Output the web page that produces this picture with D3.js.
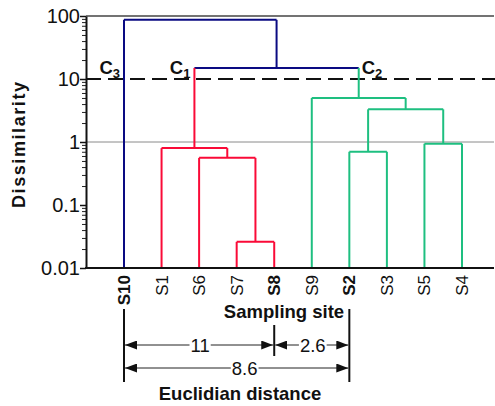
<!DOCTYPE html>
<html>
<head>
<meta charset="utf-8">
<script src="https://cdn.jsdelivr.net/npm/d3@7"></script>
<style>
  body { margin: 0; background: #fff; }
  text { font-family: "Liberation Sans", Arial, Helvetica, sans-serif; fill: #111; }
</style>
</head>
<body>
<svg id="chart" width="495" height="406"></svg>
<script>
// leaves in plotted order
const leaves = ["S10", "S1", "S6", "S7", "S8", "S9", "S2", "S3", "S5", "S4"];
const boldLeaves = ["S10", "S8", "S2"];
const leafCluster = ["blue", "red", "red", "red", "red", "green", "green", "green", "green", "green"];

// internal nodes (merges), bottom-up
const nodeIds = ["n1", "n2", "n3", "n4", "n5", "n6", "n7", "n8", "n9"];
const nodeChildren = [["S7", "S8"], ["S6", "n1"], ["S1", "n2"], ["S2", "S3"], ["S5", "S4"],
                      ["n4", "n5"], ["S9", "n6"], ["n3", "n7"], ["S10", "n8"]];
const nodeHeights = [0.026, 0.56, 0.80, 0.70, 0.94, 3.3, 5.0, 15, 87];
const nodeCluster = ["red", "red", "red", "green", "green", "green", "green", "blue", "blue"];

const yTicks = [0.01, 0.1, 1, 10, 100];
const yTickLabels = ["0.01", "0.1", "1", "10", "100"];
const cutLevel = 10;

// cluster labels: [main, subscript, node whose vertical they sit by, side]
const clusterLabels = [["C", "3", "S10", "left"], ["C", "1", "n3", "left"], ["C", "2", "n7", "right"]];

// euclidian distances between the representative sites
const distFrom = ["S10", "S8", "S10"];
const distTo = ["S8", "S2", "S2"];
const distLabels = ["11", "2.6", "8.6"];
const distRow = [0, 0, 1];

const colors = { blue: "#0a0a82", red: "#fa0a37", green: "#1ebf80" };

const svg = d3.select("#chart");
const plotL = 86, plotR = 494, plotT = 16, plotB = 268;

const x = d3.scalePoint().domain(leaves).range([124, 462]);
const y = d3.scaleLog().domain([0.01, 100]).range([plotB, plotT]);

// node positions
const pos = {};
leaves.forEach((l, i) => { pos[l] = { x: x(l), h: 0.01, c: leafCluster[i] }; });
nodeIds.forEach((id, i) => {
  const [a, b] = nodeChildren[i];
  pos[id] = { x: (pos[a].x + pos[b].x) / 2, h: nodeHeights[i], c: nodeCluster[i], kids: [a, b] };
});

// gridline at 1
svg.append("line")
  .attr("x1", plotL).attr("x2", plotR)
  .attr("y1", y(1)).attr("y2", y(1))
  .attr("stroke", "#8a8a8a").attr("stroke-width", 1);

// cut line
svg.append("line")
  .attr("x1", plotL).attr("x2", 495)
  .attr("y1", y(cutLevel)).attr("y2", y(cutLevel))
  .attr("stroke", "#111").attr("stroke-width", 2.2)
  .attr("stroke-dasharray", "15,7");

// top frame line
svg.append("line")
  .attr("x1", plotL).attr("x2", plotR)
  .attr("y1", y(100)).attr("y2", y(100))
  .attr("stroke", "#444").attr("stroke-width", 1.5);

// dendrogram links
const g = svg.append("g").attr("fill", "none").attr("stroke-width", 2);
nodeIds.forEach(id => {
  const n = pos[id];
  const yn = y(n.h);
  const [a, b] = n.kids;
  g.append("line")
    .attr("x1", pos[a].x).attr("x2", pos[b].x)
    .attr("y1", yn).attr("y2", yn)
    .attr("stroke", colors[n.c]);
  n.kids.forEach(k => {
    g.append("line")
      .attr("x1", pos[k].x).attr("x2", pos[k].x)
      .attr("y1", y(pos[k].h)).attr("y2", yn)
      .attr("stroke", colors[pos[k].c]);
  });
});

// y axis
const minor = [];
yTicks.slice(0, -1).forEach(d => { for (let k = 2; k <= 9; k++) minor.push(d * k); });
svg.append("g")
  .attr("transform", `translate(${plotL},0)`)
  .call(d3.axisLeft(y).tickValues(minor).tickSize(4).tickFormat(""))
  .call(a => a.select(".domain").remove())
  .call(a => a.selectAll("line").attr("stroke", "#222"));
const yAxis = svg.append("g")
  .attr("transform", `translate(${plotL},0)`)
  .call(d3.axisLeft(y).tickValues(yTicks).tickSize(6).tickSizeOuter(0)
    .tickFormat((d, i) => yTickLabels[i]));
yAxis.select(".domain").attr("stroke", "#111").attr("stroke-width", 2);
yAxis.selectAll(".tick line").attr("stroke", "#111").attr("stroke-width", 1.5);
yAxis.selectAll(".tick text")
  .attr("font-size", 20).attr("font-family", "Liberation Sans, Arial, sans-serif")
  .attr("fill", "#111").attr("x", -6);

// bottom axis line
svg.append("line")
  .attr("x1", plotL - 1).attr("x2", plotR)
  .attr("y1", plotB).attr("y2", plotB)
  .attr("stroke", "#111").attr("stroke-width", 2);

// leaf labels
svg.selectAll(".leaf")
  .data(leaves)
  .join("text")
  .attr("class", "leaf")
  .attr("transform", d => `translate(${x(d) + 6},${plotB + 7}) rotate(-90)`)
  .attr("text-anchor", "end")
  .attr("font-size", 17)
  .attr("font-weight", d => boldLeaves.includes(d) ? "bold" : "normal")
  .text(d => d);

// axis titles
svg.append("text")
  .attr("transform", `translate(25,145) rotate(-90)`)
  .attr("text-anchor", "middle")
  .attr("font-size", 18).attr("font-weight", "bold")
  .attr("textLength", 126).attr("lengthAdjust", "spacing")
  .text("Dissimilarity");

svg.append("text")
  .attr("x", 284).attr("y", 318)
  .attr("text-anchor", "middle")
  .attr("font-size", 18.5).attr("font-weight", "bold")
  .text("Sampling site");

// cluster labels
clusterLabels.forEach(([m, sub, node, side]) => {
  const t = svg.append("text")
    .attr("y", y(cutLevel) - 5)
    .attr("font-size", 18.5).attr("font-weight", "bold")
    .attr("x", side === "left" ? pos[node].x - 4 : pos[node].x + 3)
    .attr("text-anchor", side === "left" ? "end" : "start");
  t.append("tspan").text(m);
  t.append("tspan").attr("font-size", 13).attr("dy", 4).text(sub);
});

// distance bars
const defs = svg.append("defs");
defs.append("marker").attr("id", "arrEnd")
  .attr("viewBox", "0 0 12 9").attr("refX", 12).attr("refY", 4.5)
  .attr("markerWidth", 12).attr("markerHeight", 9).attr("markerUnits", "userSpaceOnUse")
  .attr("orient", "auto")
  .append("path").attr("d", "M0,0L12,4.5L0,9Z").attr("fill", "#111");
defs.append("marker").attr("id", "arrStart")
  .attr("viewBox", "0 0 12 9").attr("refX", 0).attr("refY", 4.5)
  .attr("markerWidth", 12).attr("markerHeight", 9).attr("markerUnits", "userSpaceOnUse")
  .attr("orient", "auto")
  .append("path").attr("d", "M12,0L0,4.5L12,9Z").attr("fill", "#111");

const rowY = [345, 368];
// boundary verticals
svg.append("line").attr("x1", x("S10")).attr("x2", x("S10")).attr("y1", 309).attr("y2", 382)
  .attr("stroke", "#111").attr("stroke-width", 2);
svg.append("line").attr("x1", x("S2")).attr("x2", x("S2")).attr("y1", 309).attr("y2", 382)
  .attr("stroke", "#111").attr("stroke-width", 2);
svg.append("line").attr("x1", x("S8")).attr("x2", x("S8")).attr("y1", 325).attr("y2", 356)
  .attr("stroke", "#111").attr("stroke-width", 2);

distLabels.forEach((lab, i) => {
  const x1 = x(distFrom[i]) + 1, x2 = x(distTo[i]) - 1, yy = rowY[distRow[i]];
  svg.append("line")
    .attr("x1", x1).attr("x2", x2).attr("y1", yy).attr("y2", yy)
    .attr("stroke", "#222").attr("stroke-width", 1)
    .attr("marker-start", "url(#arrStart)").attr("marker-end", "url(#arrEnd)");
  const cx = i === 2 ? (x1 + x2) / 2 + 8 : (x1 + x2) / 2 + 1;
  const t = svg.append("text")
    .attr("x", cx).attr("y", yy + 6.5)
    .attr("text-anchor", "middle").attr("font-size", 18.5)
    .text(lab);
  const bb = t.node().getBBox();
  svg.insert("rect", () => t.node())
    .attr("x", bb.x - 1).attr("y", yy - 2).attr("width", bb.width + 2).attr("height", 4)
    .attr("fill", "#fff");
});

svg.append("text")
  .attr("x", 240).attr("y", 400)
  .attr("text-anchor", "middle")
  .attr("font-size", 18.5).attr("font-weight", "bold")
  .text("Euclidian distance");
</script>
</body>
</html>
